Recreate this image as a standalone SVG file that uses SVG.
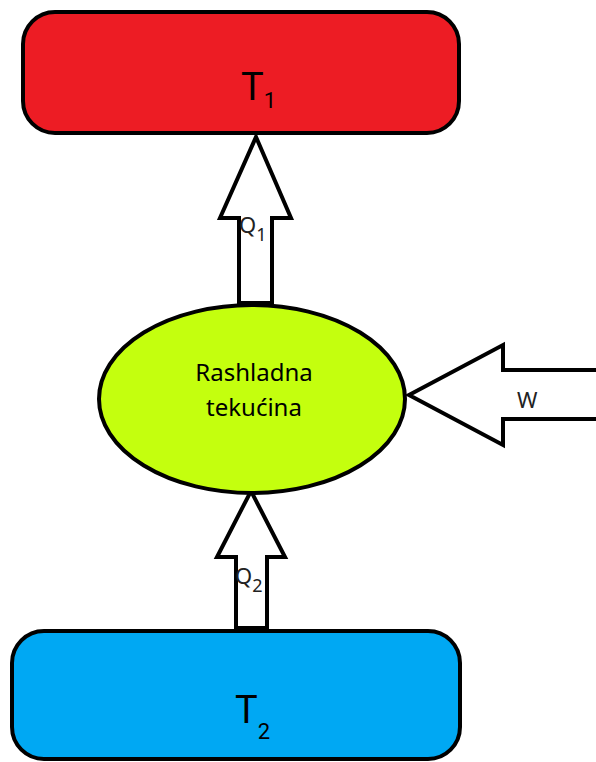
<svg xmlns="http://www.w3.org/2000/svg" width="596" height="762" viewBox="0 0 596 762">
<style>
.box{stroke:#000;stroke-width:4}
.arr{fill:#fff;stroke:#000;stroke-width:4;stroke-linejoin:miter}
.big{font-family:Roboto,"Liberation Sans",sans-serif;font-size:38px;fill:#000}
.sub{font-family:Roboto,"Liberation Sans",sans-serif;font-size:22px;fill:#000}
.lbl{font-family:"Noto Sans","Open Sans",sans-serif;font-size:24px;fill:#000}
.q{font-family:"Noto Sans","Open Sans",sans-serif;font-size:22px;fill:#222}
.qs{font-family:"Noto Sans","Open Sans",sans-serif;font-size:18px;fill:#222}
</style>
<g id="connectors">
<polygon class="arr" points="239,303 239,218 220,218 256,137 291,218 272,218 272,303"/>
<polygon class="arr" points="236,628 236,557 217,557 251,491 285,557 267,557 267,628"/>
<polygon class="arr" points="600,370 503,370 503,345 409,395 503,445 503,419 600,419"/>
<text class="q" x="239" y="233">Q<tspan class="qs" dy="8">1</tspan></text>
<text class="q" x="235" y="584">Q<tspan class="qs" dy="8">2</tspan></text>
<text class="q" x="517" y="408">W</text>
</g>
<g id="T1">
<rect class="box" x="23" y="12" width="436" height="121" rx="32" fill="#ED1C24"/>
<text class="big" x="241" y="100">T<tspan class="sub" dy="8">1</tspan></text>
</g>
<g id="fluid">
<ellipse class="box" cx="252" cy="399" rx="153" ry="94" fill="#C4FF0E"/>
<text class="lbl" x="254" y="381" text-anchor="middle">Rashladna</text>
<text class="lbl" x="254" y="416" text-anchor="middle">tekućina</text>
</g>
<g id="T2">
<rect class="box" x="12" y="631" width="448" height="128" rx="32" fill="#00A8F3"/>
<text class="big" x="235" y="723">T<tspan class="sub" dy="16">2</tspan></text>
</g>
</svg>
